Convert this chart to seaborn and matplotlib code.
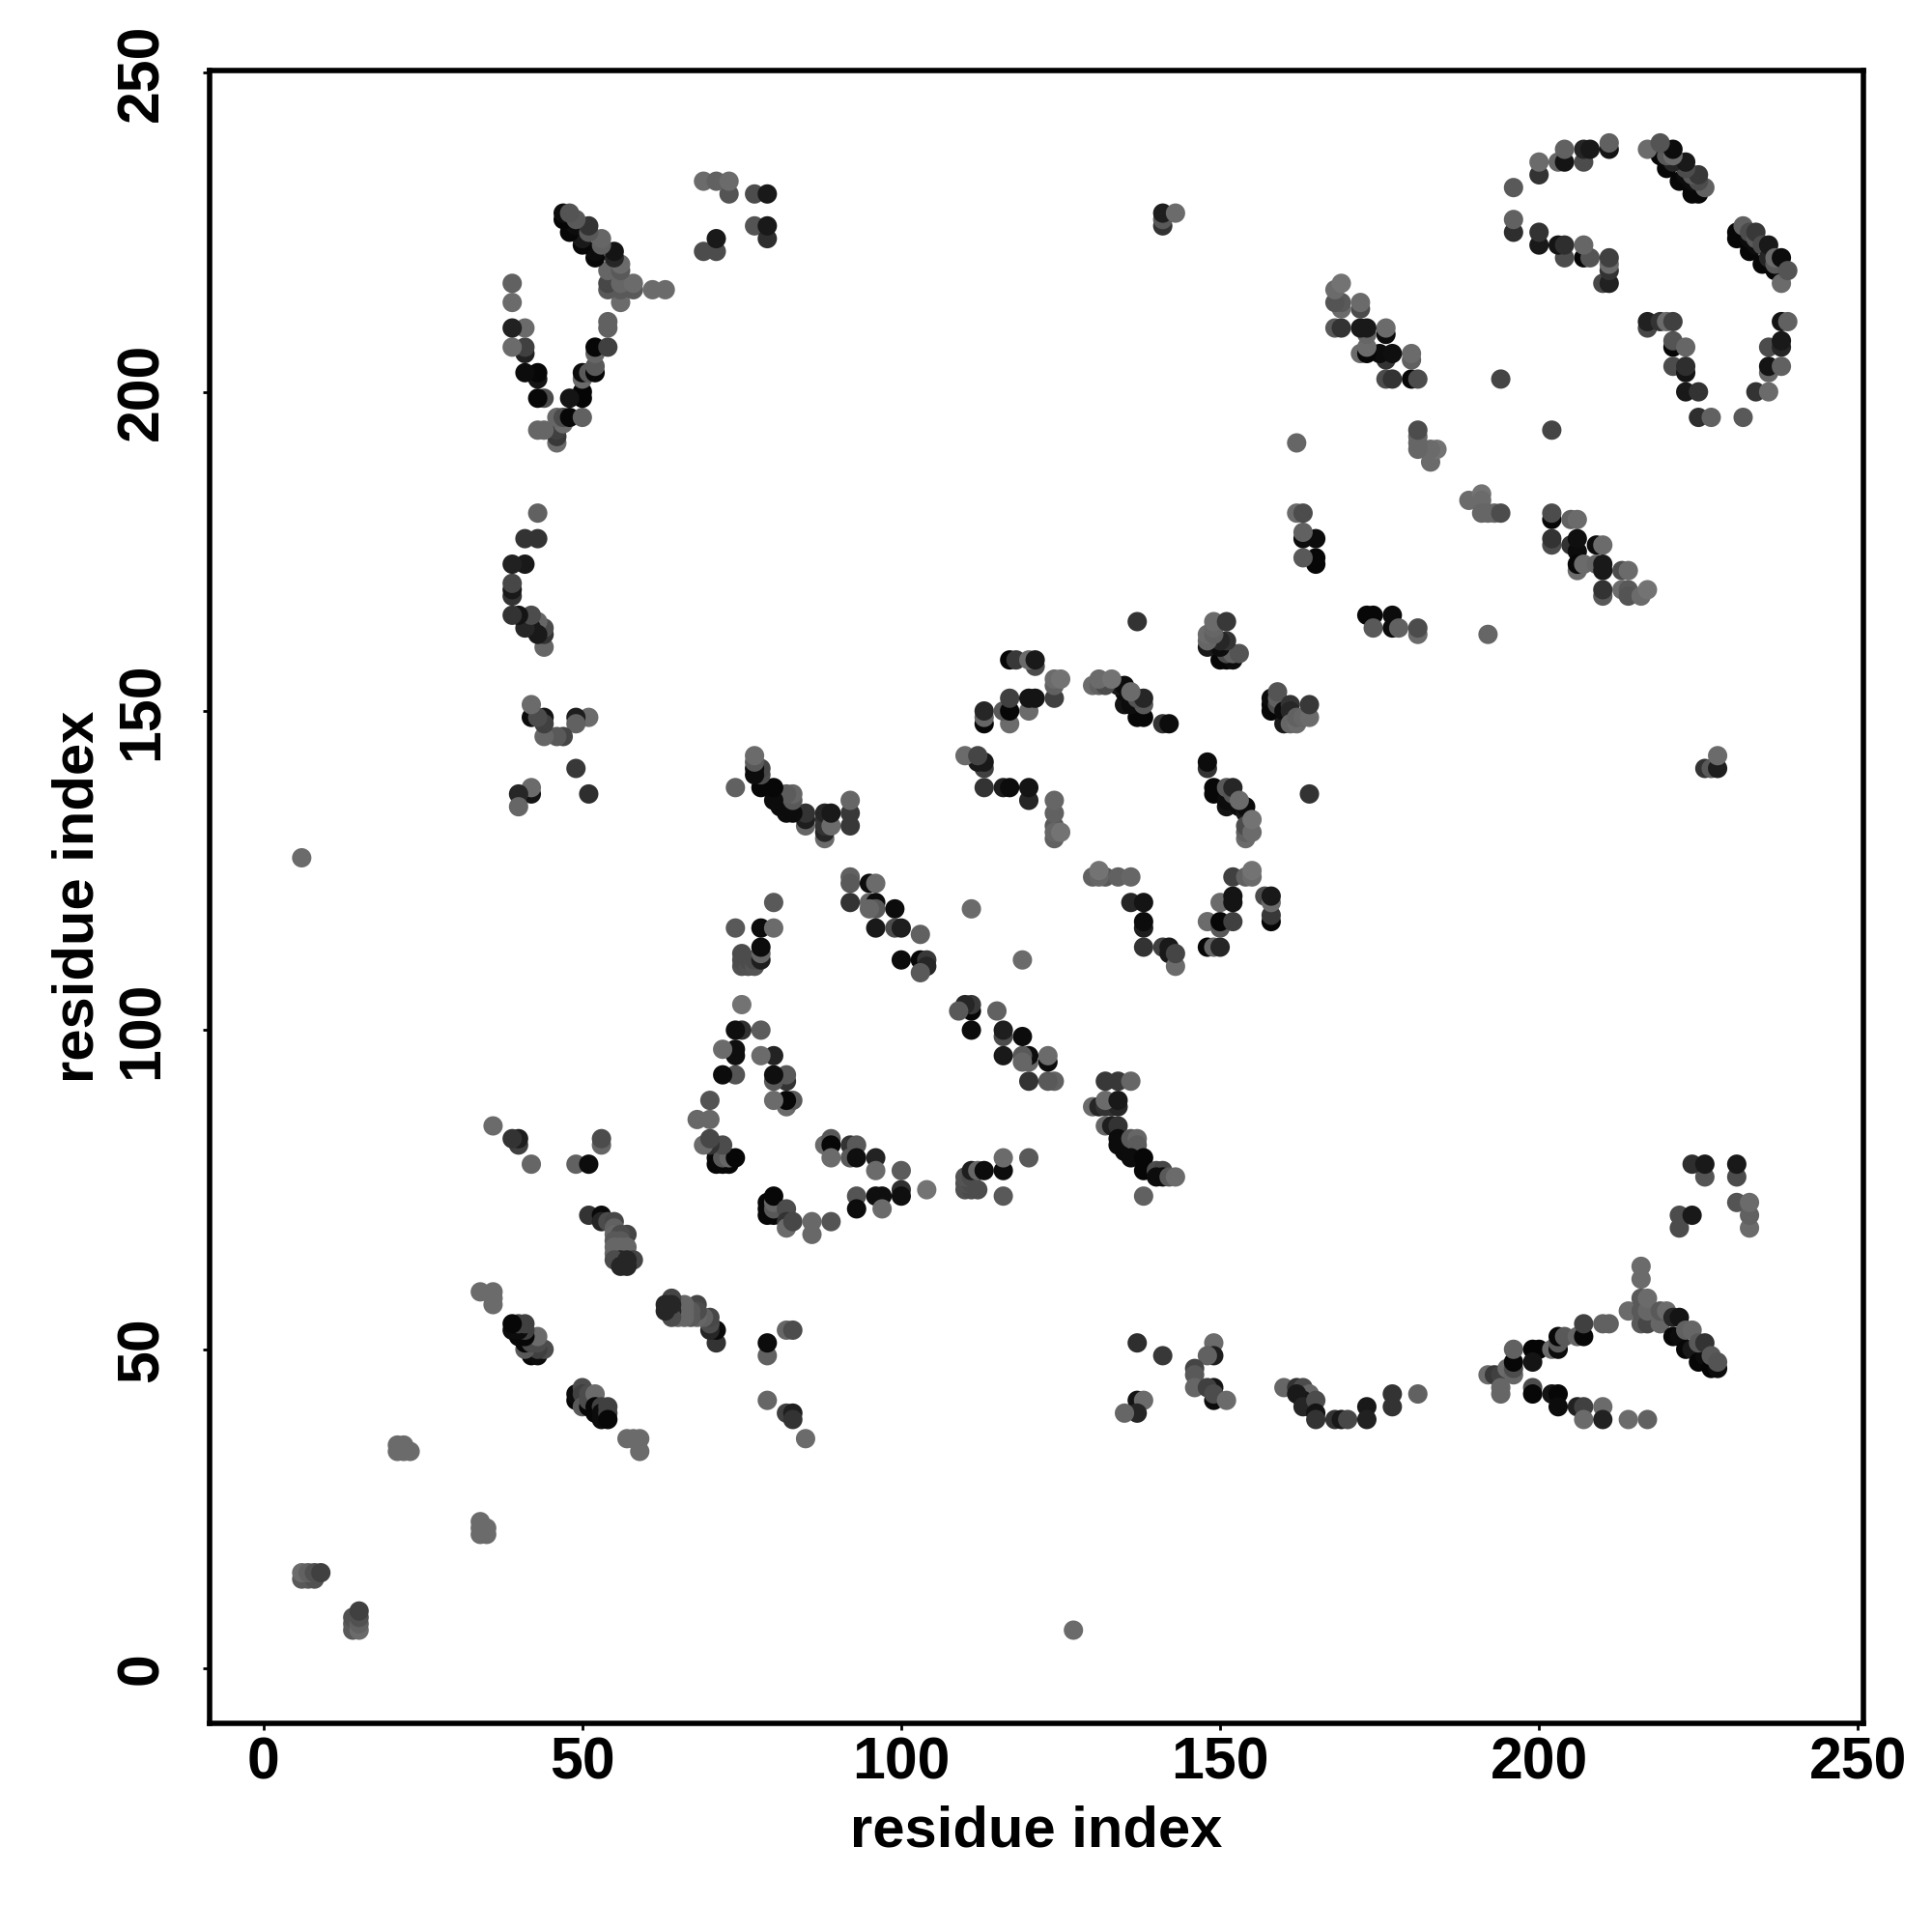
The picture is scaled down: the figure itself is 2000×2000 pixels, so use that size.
import matplotlib
matplotlib.use('Agg')
import matplotlib.pyplot as plt
import seaborn as sns
import pandas as pd

# residue contacts, one triangle only (x > y), the map is symmetric
contact_x = [
    14, 14, 14, 15, 15, 15, 15, 34, 34, 34, 35, 35, 57, 58, 59, 59, 127,
    49, 49, 50, 50, 50, 51, 51, 51, 52, 52, 52, 53, 53, 53, 54, 54, 54,
    71, 71, 70, 70, 70, 69, 68, 68, 68, 67, 67, 66, 66, 66, 65, 65, 64, 64, 64, 64, 63, 63,
    79, 79, 79, 82, 83, 83, 85, 82, 83,
    79, 79, 79, 80, 80, 80, 80, 82, 82, 82, 83, 86, 86, 89,
    88, 89, 89, 89, 92, 93, 92, 93, 93, 93, 96, 96, 96, 97, 97, 100, 100, 100, 104,
    110, 111, 112, 110, 111, 110, 111, 111, 112, 113, 116, 116, 116, 120,
    124, 123, 123, 123, 120, 120, 120, 119, 119, 119, 116, 116, 116, 115, 111, 111, 111, 110, 109, 119,
    130, 131, 132, 133, 134, 132, 134, 132, 134, 136, 132, 133, 134, 134, 134, 135, 136, 137, 137, 136, 138, 138, 140, 141, 140, 141, 142, 143, 138,
    137, 141, 149, 149, 148, 146, 146, 146, 149, 148, 149, 149, 151, 137, 138, 137, 135,
    160, 162, 163, 164, 162, 163, 164, 163, 165, 165, 165, 168, 169, 170, 173, 173, 177, 177, 181,
    192, 193, 194, 194, 194, 195, 196, 196, 196, 196, 199, 200, 199, 199, 199, 202, 203, 203, 203, 204, 206, 207, 207, 210, 211, 214,
    202, 203, 203, 206, 207, 207, 210, 210, 214, 217,
    216, 216, 216, 216, 216, 217, 217, 217, 219, 219, 220, 221, 222, 221, 222, 223, 224, 223, 224, 225, 226, 225, 226, 227, 228, 227, 228,
    226, 224, 226, 231, 231, 231, 233, 233, 233, 222, 222, 224,
    148, 149, 150, 148, 150, 150, 152, 150, 152, 152, 152, 154, 155, 155, 158, 157, 158, 158, 158,
    130, 132, 134, 136, 131, 131, 136, 138, 138, 138, 138, 141, 142, 142, 143, 143,
    148, 148, 149, 149, 151, 151, 151, 152, 152, 152, 153, 154, 154, 153, 154, 154, 154, 155, 155,
    158, 158, 158, 159, 159, 159, 160, 160, 161, 161, 161, 162, 162, 163, 164, 164, 164,
    173, 174, 177, 174, 177, 178, 181, 181, 192, 189, 191, 191, 191, 192, 193, 194, 202,
    202, 202, 202, 202, 205, 206, 205, 206, 206, 209, 210, 206, 206, 207, 209, 210, 210, 213, 214, 210, 210, 213, 214, 214, 216, 217,
    226, 227, 228, 228,
    225, 227, 232, 223, 225, 234, 236, 217, 217, 219, 220, 221, 238, 239, 221, 221, 223, 221, 223, 223, 236, 238, 238, 236, 236, 238,
    231, 231, 232, 232, 233, 233, 233, 234, 234, 234, 235, 235, 236, 236, 236, 237, 237, 237, 238, 238, 239,
]
contact_y = [
    6, 7, 8, 6, 7, 8, 9, 21, 22, 23, 21, 22, 36, 36, 36, 34, 6,
    42, 43, 44, 43, 41, 41, 42, 43, 43, 41, 40, 41, 40, 39, 41, 40, 39,
    51, 53, 53, 54, 55, 55, 57, 55, 56, 56, 55, 55, 57, 56, 55, 56, 58, 56, 55, 57, 57, 56,
    42, 49, 51, 40, 40, 39, 36, 53, 53,
    71, 72, 73, 71, 72, 73, 74, 72, 70, 69, 70, 70, 68, 70,
    82, 83, 82, 80, 82, 82, 80, 80, 74, 72, 80, 78, 74, 74, 72, 78, 75, 74, 75,
    75, 75, 75, 76, 76, 77, 77, 78, 78, 78, 74, 78, 80, 80,
    92, 92, 95, 96, 92, 95, 96, 96, 95, 99, 96, 99, 100, 103, 100, 103, 104, 104, 103, 111,
    88, 88, 88, 88, 88, 89, 89, 92, 92, 92, 85, 85, 85, 83, 82, 81, 83, 83, 82, 80, 80, 78, 78, 78, 77, 77, 77, 77, 74,
    51, 49, 51, 49, 49, 47, 46, 44, 44, 44, 42, 43, 42, 42, 42, 40, 40,
    44, 44, 44, 43, 43, 42, 41, 41, 42, 40, 39, 39, 39, 39, 41, 39, 43, 41, 43,
    46, 46, 46, 44, 43, 47, 46, 47, 48, 50, 50, 50, 48, 44, 43, 50, 50, 51, 52, 52, 52, 52, 54, 54, 54, 56,
    43, 43, 41, 41, 41, 39, 41, 39, 39, 39,
    63, 61, 58, 56, 54, 54, 56, 58, 54, 56, 56, 52, 52, 55, 55, 50, 50, 53, 53, 48, 49, 51, 51, 47, 47, 49, 48,
    77, 79, 79, 77, 79, 73, 69, 71, 73, 69, 71, 71,
    113, 113, 113, 117, 116, 117, 117, 120, 120, 121, 124, 124, 124, 125, 117, 121, 118, 120, 121,
    124, 124, 124, 124, 124, 125, 120, 120, 116, 117, 113, 113, 113, 112, 110, 112,
    141, 142, 137, 138, 135, 136, 138, 136, 137, 138, 135, 134, 135, 136, 130, 131, 132, 131, 133,
    150, 151, 152, 151, 152, 153, 148, 150, 151, 150, 148, 148, 149, 149, 149, 151, 137,
    165, 165, 165, 163, 163, 163, 162, 163, 162, 183, 184, 183, 181, 181, 181, 181, 194,
    180, 181, 176, 177, 180, 180, 176, 175, 177, 176, 176, 172, 173, 173, 173, 172, 173, 172, 172, 168, 169, 169, 169, 168, 168, 169,
    141, 141, 141, 143,
    196, 196, 196, 200, 200, 200, 200, 210, 211, 211, 211, 211, 211, 211, 207, 208, 207, 204, 203, 204, 207, 207, 208, 203, 204, 204,
    224, 225, 224, 226, 222, 224, 225, 223, 224, 225, 220, 223, 220, 221, 223, 219, 220, 221, 217, 221, 219,
]
# grey level of each contact, in percent (0 is black)
contact_shade = [
    35, 35, 32, 42, 38, 32, 25, 42, 42, 42, 42, 42, 42, 42, 42, 42, 42,
    3, 5, 30, 25, 35, 3, 30, 30, 42, 3, 3, 25, 5, 5, 25, 25, 3,
    20, 4, 15, 30, 28, 38, 27, 40, 30, 35, 35, 40, 40, 40, 40, 40, 27, 15, 30, 15, 15, 15,
    40, 38, 5, 25, 12, 20, 42, 40, 30,
    3, 3, 3, 3, 35, 40, 3, 30, 20, 42, 28, 41, 41, 33,
    42, 35, 3, 42, 20, 35, 35, 6, 33, 5, 14, 42, 6, 6, 42, 36, 19, 6, 45,
    32, 30, 30, 32, 30, 33, 30, 12, 40, 5, 35, 5, 42, 35,
    38, 35, 5, 42, 20, 40, 5, 35, 40, 5, 10, 30, 12, 38, 5, 3, 22, 15, 35, 42,
    42, 15, 20, 20, 15, 42, 10, 22, 22, 40, 40, 12, 20, 5, 5, 5, 35, 40, 36, 5, 3, 3, 30, 28, 5, 5, 35, 42, 38,
    18, 22, 42, 12, 38, 27, 35, 40, 8, 25, 5, 30, 42, 8, 42, 15, 40,
    40, 20, 30, 40, 10, 10, 5, 15, 30, 8, 20, 20, 10, 28, 10, 13, 20, 20, 38,
    42, 22, 25, 40, 40, 42, 40, 30, 3, 38, 2, 2, 8, 30, 3, 42, 5, 35, 3, 35, 40, 3, 25, 38, 38, 42,
    8, 3, 5, 13, 25, 42, 42, 13, 42, 38,
    42, 42, 35, 35, 35, 28, 40, 42, 40, 35, 42, 3, 5, 15, 8, 3, 10, 38, 40, 3, 5, 35, 20, 2, 5, 35, 33,
    33, 18, 10, 30, 10, 33, 42, 38, 42, 30, 30, 10,
    3, 40, 15, 42, 35, 3, 25, 42, 8, 8, 25, 38, 42, 45, 3, 30, 22, 42, 10,
    38, 35, 38, 40, 40, 45, 15, 8, 12, 5, 20, 25, 10, 10, 42, 27,
    20, 5, 3, 3, 8, 5, 35, 5, 33, 15, 5, 10, 5, 42, 42, 38, 30, 42, 45,
    3, 3, 5, 30, 38, 33, 10, 5, 20, 15, 40, 42, 38, 40, 42, 22, 20,
    3, 3, 5, 35, 5, 38, 42, 30, 40, 42, 45, 42, 40, 40, 40, 30, 27,
    3, 30, 30, 20, 38, 42, 20, 5, 6, 5, 42, 42, 3, 42, 40, 10, 10, 30, 42, 35, 20, 42, 35, 33, 42, 45,
    20, 35, 12, 42,
    18, 38, 35, 10, 20, 20, 42, 28, 13, 20, 42, 25, 8, 38, 3, 33, 40, 30, 8, 18, 30, 15, 10, 40, 8, 38,
    3, 3, 3, 38, 3, 5, 30, 5, 35, 22, 3, 30, 3, 15, 10, 3, 35, 42, 42, 5, 33,
]
tick_values = [0, 50, 100, 150, 200, 250]

sns.set_theme(style='white')
plt.rcParams['font.family'] = ['Liberation Sans', 'DejaVu Sans']

df = pd.DataFrame({'x': contact_x, 'y': contact_y, 'shade': contact_shade})
# mirror across the diagonal
mirrored = df.rename(columns={'x': 'y', 'y': 'x'})
both = pd.concat([df, mirrored], ignore_index=True)

fig = plt.figure(figsize=(10, 10), dpi=200)
ax = fig.add_axes([0.1083, 0.108, 0.856, 0.8557])
sns.scatterplot(data=both, x='x', y='y', hue='shade', palette='gray', hue_norm=(0, 100),
                s=52, linewidth=0, legend=False, ax=ax)

ax.set_xlim(-8.5, 250.8)
ax.set_ylim(-8.6, 250.4)
ax.set_xticks(tick_values)
ax.set_yticks(tick_values)
ax.set_xticklabels(tick_values, fontsize=21.9, fontweight='bold', color='black')
ax.set_yticklabels(tick_values, fontsize=21.9, fontweight='bold', color='black',
                   rotation=90, va='center')
ax.tick_params(bottom=True, left=True, length=2.5, width=1, color='black')
ax.tick_params(axis='x', pad=2.5)
ax.tick_params(axis='y', pad=12)
ax.set_xlabel('residue index', fontsize=21.5, fontweight='bold', color='black', labelpad=4.8)
ax.set_ylabel('residue index', fontsize=21.5, fontweight='bold', color='black', labelpad=4)
for spine in ax.spines.values():
    spine.set_linewidth(2)
    spine.set_color('black')

plt.savefig('out.png', dpi=200, facecolor='white')
plt.close()
